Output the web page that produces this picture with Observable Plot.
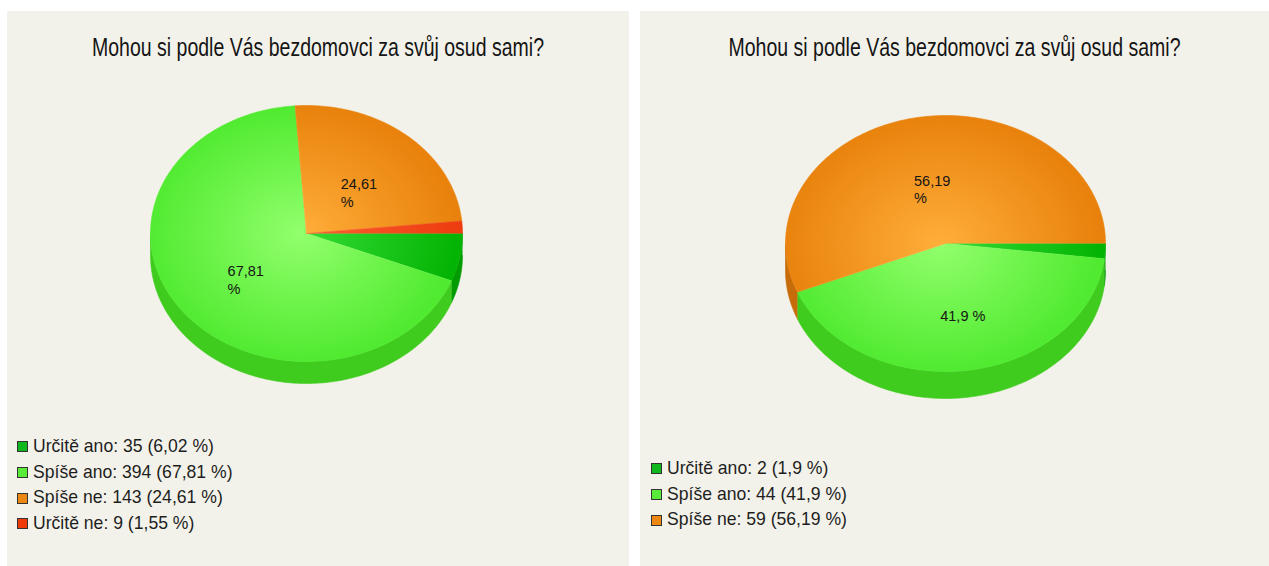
<!DOCTYPE html>
<html><head><meta charset="utf-8">
<script src="https://cdn.jsdelivr.net/npm/d3@7"></script>
<script src="https://cdn.jsdelivr.net/npm/@observablehq/plot@0.6"></script>
<style>
body{margin:0;background:#fff;font-family:"Liberation Sans",Arial,sans-serif;}
#root{position:relative;width:1269px;height:566px;overflow:hidden;background:#fff;}
.panel{position:absolute;top:11px;height:555px;background:#f3f2ea;}
.title{position:absolute;left:0;right:0;top:27px;text-align:center;font-size:19.5px;line-height:19.5px;color:#151515;transform:scaleY(1.28);white-space:nowrap;}
.chart{position:absolute;left:0;top:0;}
.legend{position:absolute;font-size:17.6px;color:#1e1e1e;}
.legend .row{height:25.7px;line-height:25.7px;display:flex;align-items:center;white-space:nowrap;}
.legend .sw{width:9px;height:9px;border:1px solid #333;margin-right:5px;flex:none;}
.legend .tx{display:inline-block;transform:scaleY(1.08);}
</style></head><body><div id="root"></div>
<script>
// ---- data ----
const chartTitle = "Mohou si podle Vás bezdomovci za svůj osud sami?";
const leftCategories = ["Určitě ano", "Spíše ano", "Spíše ne", "Určitě ne"];
const leftCounts = [35, 394, 143, 9];
const leftPercents = ["6,02", "67,81", "24,61", "1,55"];
const leftSliceLabels = ["", "67,81\n%", "24,61\n%", ""];
const rightCategories = ["Určitě ano", "Spíše ano", "Spíše ne"];
const rightCounts = [2, 44, 59];
const rightPercents = ["1,9", "41,9", "56,19"];
const rightSliceLabels = ["", "41,9 %", "56,19\n%"];

// ---- styles ----
const edgeColor = {"Určitě ano": "#04b404", "Spíše ano": "#50ea30", "Spíše ne": "#e8820c", "Určitě ne": "#ec3c10"};
const centerColor = {"Určitě ano": "#36dc36", "Spíše ano": "#92ff6c", "Spíše ne": "#ffae3a", "Určitě ne": "#ff6030"};
const sideColor = {"Určitě ano": "#029c02", "Spíše ano": "#40cc1e", "Spíše ne": "#c86c0a", "Určitě ne": "#bb3308"};
const legendColor = {"Určitě ano": "#10b820", "Spíše ano": "#58ec38", "Spíše ne": "#ec8812", "Určitě ne": "#ee3a08"};

const root = document.getElementById("root");

function arcPts(t0, t1, off) {
  const n = Math.max(2, Math.ceil((t1 - t0) / (Math.PI / 180)));
  const pts = [];
  for (let i = 0; i <= n; i++) {
    const t = t0 + (t1 - t0) * i / n;
    pts.push({x: Math.cos(t), y: Math.sin(t) + off});
  }
  return pts;
}

function makePanel(opts) {
  const {left, width, cats, counts, pcts, labels, cx, cy, rx, ry, depth, legendTop, id} = opts;
  const panel = document.createElement("div");
  panel.className = "panel";
  panel.style.left = left + "px";
  panel.style.width = width + "px";
  root.appendChild(panel);

  const pie = d3.pie().sort(null).startAngle(Math.PI / 2).endAngle(Math.PI / 2 + 2 * Math.PI)(counts);
  const slices = pie.map((p, i) => ({cat: cats[i], idx: i, t0: p.startAngle - Math.PI / 2, t1: p.endAngle - Math.PI / 2, label: labels[i]}));
  const d = depth / ry;

  const marks = [];
  // sides (front half only)
  for (const s of slices) {
    const a = Math.max(s.t0, 0), b = Math.min(s.t1, Math.PI);
    if (b > a) {
      const pts = arcPts(a, b, 0).concat(arcPts(a, b, d).reverse());
      marks.push(Plot.line(pts, {x: "x", y: "y", fill: sideColor[s.cat], stroke: sideColor[s.cat], strokeWidth: 0.6}));
    }
  }
  // top faces
  for (const s of slices) {
    const pts = [{x: 0, y: 0}].concat(arcPts(s.t0, s.t1, 0));
    marks.push(Plot.line(pts, {x: "x", y: "y", fill: `url(#g${id}${s.idx})`, stroke: `url(#g${id}${s.idx})`, strokeWidth: 0.6}));
  }
  // labels
  const labelData = slices.filter(s => s.label).map(s => {
    const m = (s.t0 + s.t1) / 2;
    return {x: 0.5 * Math.cos(m), y: 0.5 * Math.sin(m), text: s.label};
  });
  marks.push(Plot.text(labelData, {x: "x", y: "y", text: "text", textAnchor: "start", dx: -16, dy: 8, fontSize: 14.5, lineHeight: 1.22, fill: "#151515"}));

  const svg = Plot.plot({
    width, height: 420, margin: 0,
    x: {domain: [-1, 1], range: [cx - rx, cx + rx], axis: null},
    y: {domain: [-1, 1], range: [cy - ry, cy + ry], axis: null},
    style: {background: "transparent", fontFamily: "'Liberation Sans', Arial, sans-serif", overflow: "visible"},
    marks
  });
  svg.classList.add("chart");
  const defs = d3.select(svg).insert("defs", ":first-child");
  for (const s of slices) {
    const g = defs.append("radialGradient").attr("id", `g${id}${s.idx}`)
      .attr("gradientUnits", "userSpaceOnUse")
      .attr("cx", cx - 6).attr("cy", cy).attr("r", rx)
      .attr("gradientTransform", `translate(${cx},${cy}) scale(1,${ry / rx}) translate(${-cx},${-cy})`);
    g.append("stop").attr("offset", "0%").attr("stop-color", centerColor[s.cat]);
    g.append("stop").attr("offset", "100%").attr("stop-color", edgeColor[s.cat]);
  }
  panel.appendChild(svg);

  const title = document.createElement("div");
  title.className = "title";
  title.textContent = chartTitle;
  panel.appendChild(title);

  const legend = document.createElement("div");
  legend.className = "legend";
  legend.style.left = opts.legendLeft + "px";
  legend.style.top = legendTop + "px";
  cats.forEach((c, i) => {
    const row = document.createElement("div");
    row.className = "row";
    const sw = document.createElement("span");
    sw.className = "sw";
    sw.style.background = legendColor[c];
    row.appendChild(sw);
    const t = document.createElement("span");
    t.className = "tx";
    t.textContent = `${c}: ${counts[i]} (${pcts[i]} %)`;
    row.appendChild(t);
    legend.appendChild(row);
  });
  panel.appendChild(legend);
}

makePanel({left: 7, width: 622, cats: leftCategories, counts: leftCounts, pcts: leftPercents, labels: leftSliceLabels,
  cx: 299, cy: 222, rx: 156, ry: 128, depth: 22, legendTop: 423, legendLeft: 10, id: "L"});
makePanel({left: 640, width: 629, cats: rightCategories, counts: rightCounts, pcts: rightPercents, labels: rightSliceLabels,
  cx: 305, cy: 232, rx: 160, ry: 128, depth: 27, legendTop: 445, legendLeft: 11, id: "R"});
</script></body></html>
